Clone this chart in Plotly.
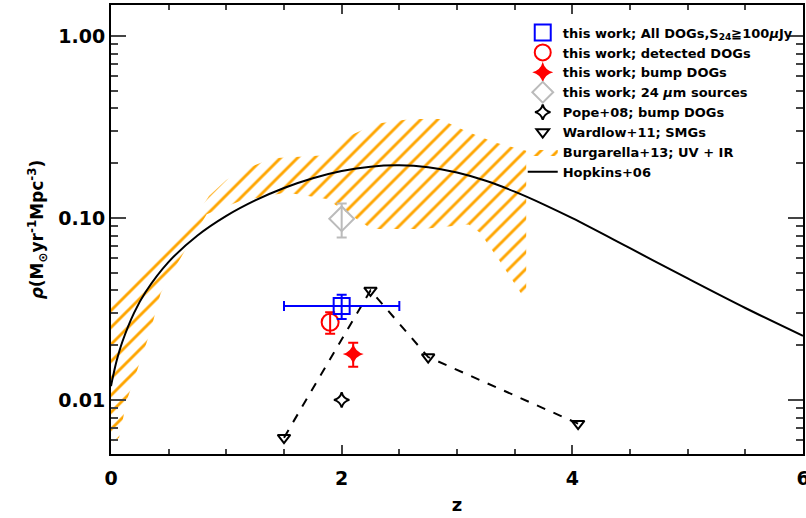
import plotly.graph_objects as go

# ---------------- data ----------------
# Hopkins+06 cosmic SFR density curve
hop_z = [0.0, 0.01, 0.02, 0.05, 0.1, 0.2, 0.3, 0.5, 0.75, 1.0, 1.25, 1.5, 1.75, 2.0,
         2.25, 2.5, 2.75, 3.0, 3.25, 3.5, 3.75, 4.0, 4.5, 5.0, 5.5, 6.0]
hop_rho = [0.0119, 0.0128, 0.0137, 0.0165, 0.0210, 0.0301, 0.0392, 0.0574, 0.0801,
           0.1027, 0.1249, 0.1462, 0.1654, 0.1812, 0.1915, 0.1947, 0.1899, 0.1777,
           0.1601, 0.1396, 0.1189, 0.0997, 0.0682, 0.0465, 0.0320, 0.0225]

# Burgarella+13 UV+IR region (upper edge left->right, then lower edge right->left)
burg_upper_z = [0.0, 0.25, 0.5, 0.7, 0.85, 1.0, 1.2, 1.4, 1.9, 2.05, 2.3, 2.6, 2.85, 3.08, 3.33, 3.6]
burg_upper_rho = [0.037, 0.048, 0.068, 0.095, 0.132, 0.162, 0.19, 0.213, 0.222, 0.28, 0.33, 0.35, 0.35, 0.30, 0.26, 0.234]
burg_lower_z = [3.6, 3.55, 3.37, 3.2, 3.1, 2.7, 2.26, 2.13, 1.87, 1.52, 1.12, 0.83, 0.57, 0.43, 0.34, 0.24, 0.136, 0.07, 0.0]
burg_lower_rho = [0.036, 0.039, 0.058, 0.083, 0.092, 0.087, 0.087, 0.099, 0.127, 0.138, 0.124, 0.105, 0.0555, 0.0385, 0.0236, 0.0154, 0.0099, 0.0062, 0.0058]

# Wardlow+11 SMGs
ward_z = [1.5, 2.25, 2.75, 4.05]
ward_rho = [0.0062, 0.040, 0.0172, 0.0074]

# Pope+08 bump DOGs
pope_z = [2.0]
pope_rho = [0.010]

# this work
all_z = [2.0]; all_rho = [0.0328]; all_zerr = [0.5]; all_err = [0.005]
det_z = [1.9]; det_rho = [0.0267]; det_err = [0.0036]
bump_z = [2.1]; bump_rho = [0.0179]; bump_err = [0.0027]
s24_z = [2.0]; s24_rho = [0.099]; s24_err = [0.021]

x_ticks = [0, 2, 4, 6]
y_ticks = [0.01, 0.1, 1.0]
y_ticktext = ["0.01", "0.10", "1.00"]
y_minor = [m * 10.0 ** e for e in (-3, -2, -1, 0) for m in range(2, 10)]

FONT = "DejaVu Sans"

fig = go.Figure()

fig.add_trace(go.Scatter(
    x=burg_upper_z + burg_lower_z, y=burg_upper_rho + burg_lower_rho,
    mode="lines", fill="toself", line=dict(width=0, color="orange"),
    fillcolor="rgba(0,0,0,0)",
    fillpattern=dict(shape="/", fgcolor="#FFA500", bgcolor="rgba(0,0,0,0)",
                     size=12, solidity=0.24, fgopacity=1),
    name="Burgarella+13; UV + IR", legendrank=7))

fig.add_trace(go.Scatter(
    x=hop_z, y=hop_rho, mode="lines", line=dict(color="black", width=2, shape="spline"),
    name="Hopkins+06", legendrank=8))

fig.add_trace(go.Scatter(
    x=ward_z, y=ward_rho, mode="lines", line=dict(color="black", width=2, dash="dash"),
    showlegend=False))
fig.add_trace(go.Scatter(
    x=ward_z, y=ward_rho, mode="markers",
    marker=dict(symbol="triangle-down-open", size=11, color="black", line=dict(width=2)),
    name="Wardlow+11; SMGs", legendrank=6))

fig.add_trace(go.Scatter(
    x=pope_z, y=pope_rho, mode="markers",
    marker=dict(symbol="star-diamond-open", size=11, color="black", line=dict(width=2)),
    name="Pope+08; bump DOGs", legendrank=5))

fig.add_trace(go.Scatter(
    x=s24_z, y=s24_rho, mode="markers",
    error_y=dict(type="data", array=s24_err, color="#BBBBBB", thickness=2, width=5),
    marker=dict(symbol="diamond-open", size=19, color="#BBBBBB", line=dict(width=2)),
    name="this work; 24 <i>μ</i>m sources", legendrank=4))

fig.add_trace(go.Scatter(
    x=bump_z, y=bump_rho, mode="markers",
    error_y=dict(type="data", array=bump_err, color="red", thickness=2, width=5),
    marker=dict(symbol="star-diamond", size=15, color="red", line=dict(width=0)),
    name="this work; bump DOGs", legendrank=3))

fig.add_trace(go.Scatter(
    x=det_z, y=det_rho, mode="markers",
    error_y=dict(type="data", array=det_err, color="red", thickness=2, width=5),
    marker=dict(symbol="circle-open", size=17, color="red", line=dict(width=2)),
    name="this work; detected DOGs", legendrank=2))

fig.add_trace(go.Scatter(
    x=all_z, y=all_rho, mode="markers",
    error_x=dict(type="data", array=all_zerr, color="blue", thickness=2, width=5),
    error_y=dict(type="data", array=all_err, color="blue", thickness=2, width=5),
    marker=dict(symbol="square-open", size=16, color="blue", line=dict(width=2)),
    name="this work; All DOGs,S<sub>24</sub>≧100<i>μ</i>Jy", legendrank=1))

fig.update_layout(
    width=806, height=518,
    margin=dict(l=111, r=3, t=5, b=64, autoexpand=False),
    paper_bgcolor="white", plot_bgcolor="white",
    font=dict(family=FONT, color="black"),
    showlegend=True,
    legend=dict(x=0.595, xanchor="left", y=0.972, yanchor="top",
                bgcolor="rgba(0,0,0,0)", borderwidth=0,
                font=dict(family=FONT, size=13, color="black", weight="bold"),
                tracegroupgap=0, itemsizing="trace"),
    xaxis=dict(range=[0, 6], tickvals=x_ticks, ticks="inside", ticklen=9, tickwidth=2,
               showline=True, linewidth=2, linecolor="black", mirror="ticks",
               showgrid=False, zeroline=False, automargin=False, ticklabelstandoff=6,
               ticklabeloverflow="allow",
               tickfont=dict(family=FONT, size=19, weight="bold"),
               minor=dict(dtick=0.5, ticks="inside", ticklen=5, tickwidth=2, showgrid=False),
               title=dict(text="z", font=dict(family=FONT, size=18, weight="bold"), standoff=11)),
    yaxis=dict(type="log", range=[-2.2975, 0.171], tickvals=y_ticks, ticktext=y_ticktext,
               ticks="inside", ticklen=15, tickwidth=2,
               showline=True, linewidth=2, linecolor="black", mirror="ticks",
               showgrid=False, zeroline=False, automargin=False,
               tickfont=dict(family=FONT, size=19, weight="bold"),
               minor=dict(tickvals=y_minor, ticks="inside", ticklen=7, tickwidth=2, showgrid=False),
               title=dict(text="<i>ρ</i>(M<sub>⊙</sub>yr<sup>-1</sup>Mpc<sup>-3</sup>)",
                          font=dict(family=FONT, size=17, weight="bold"), standoff=10)),
)

fig.write_html("out.html", config={"responsive": False, "displayModeBar": False},
               post_script="document.body.style.margin='0px';document.body.style.overflow='hidden';")
